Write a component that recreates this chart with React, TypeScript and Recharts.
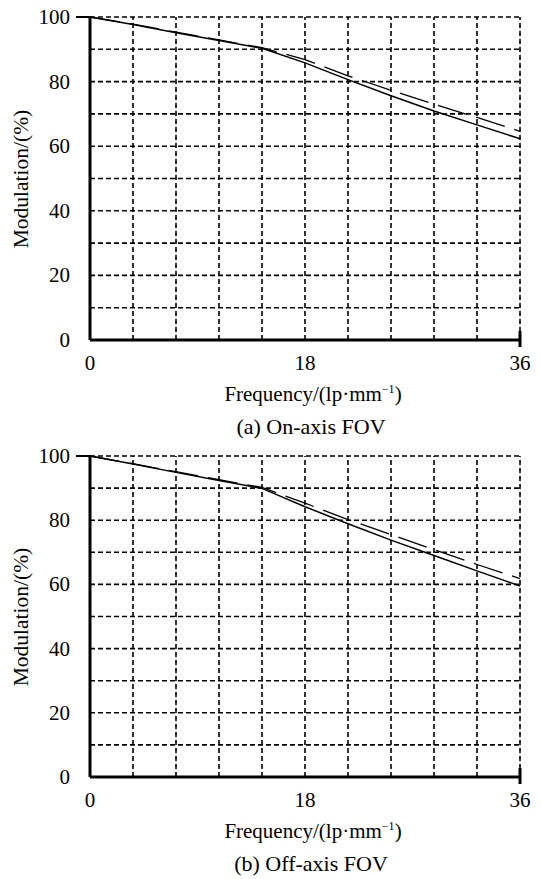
import React from 'react'
import { LineChart, Line, XAxis, YAxis, ReferenceLine } from 'recharts'

// MTF curves, frequency in lp/mm, modulation in %
const FREQ = [0, 3.6, 7.2, 10.8, 14.4, 18, 21.6, 25.2, 28.8, 32.4, 36]
const ON_AXIS_SOLID = [100, 97.7, 95.1, 92.7, 90.3, 85.8, 80.6, 75.6, 70.9, 66.6, 62.3]
const ON_AXIS_DASHED = [100, 97.8, 95.3, 92.9, 90.5, 86.8, 81.8, 77.3, 73.0, 68.9, 64.6]
const OFF_AXIS_SOLID = [100, 97.5, 94.9, 92.4, 89.9, 84.2, 78.9, 73.8, 69.0, 64.2, 59.5]
const OFF_AXIS_DASHED = [100, 97.6, 95.1, 92.6, 90.2, 85.3, 80.2, 75.5, 70.8, 66.2, 61.8]

const X_TICKS = [0, 18, 36]
const Y_TICKS = [0, 20, 40, 60, 80, 100]
const GRID_X = [3.6, 7.2, 10.8, 14.4, 18, 21.6, 25.2, 28.8, 32.4, 36]
const GRID_Y = [10, 20, 30, 40, 50, 60, 70, 80, 90, 100]

const FONT = '"Liberation Serif", "Times New Roman", serif'
const INK = '#000'

const buildRows = (solid: number[], dashed: number[]) =>
  FREQ.map((f, i) => ({ f, solid: solid[i], dashed: dashed[i] }))

const YTick = (props: any) => {
  const { x, y, payload } = props
  return (
    <g>
      <text x={x} y={y} textAnchor="end" dominantBaseline="central" fontFamily={FONT} fontSize={21} fill={INK}>
        {payload.value}
      </text>
      {payload.value === 100 && <line x1={x + 6} x2={x + 20} y1={y} y2={y} stroke={INK} strokeWidth={2} />}
    </g>
  )
}

const XTick = (props: any) => {
  const { x, y, payload } = props
  const axisY = y - 12
  return (
    <g>
      <text x={x} y={y + 11} textAnchor="middle" dominantBaseline="central" fontFamily={FONT} fontSize={21} fill={INK}>
        {payload.value}
      </text>
      {payload.value === 36 && <line x1={x} x2={x} y1={axisY - 9} y2={axisY + 7} stroke={INK} strokeWidth={3} />}
    </g>
  )
}

type PanelProps = {
  top: number
  height: number
  plotTop: number
  plotBottom: number
  solid: number[]
  dashed: number[]
  caption: string
}

const AXIS_BAND = 30

function Panel({ top, height, plotTop, plotBottom, solid, dashed, caption }: PanelProps) {
  const rows = buildRows(solid, dashed)
  const midY = (plotTop + plotBottom) / 2
  return (
    <div style={{ position: 'absolute', left: 0, top, width: 541, height }}>
      <LineChart
        width={541}
        height={height}
        data={rows}
        margin={{ top: plotTop, right: 21, bottom: height - plotBottom - AXIS_BAND, left: 90 - AXIS_BAND }}
      >
        {GRID_Y.map((v) => (
          <ReferenceLine key={'gy' + v} y={v} stroke={INK} strokeWidth={1.6} strokeDasharray="5 3" />
        ))}
        {GRID_X.map((v) => (
          <ReferenceLine key={'gx' + v} x={v} stroke={INK} strokeWidth={1.6} strokeDasharray="5 3" />
        ))}
        <XAxis
          dataKey="f"
          type="number"
          domain={[0, 36]}
          ticks={X_TICKS}
          height={AXIS_BAND}
          tickSize={0}
          tickMargin={12}
          tickLine={false}
          axisLine={{ stroke: INK, strokeWidth: 3 }}
          tick={<XTick />}
          interval={0}
        />
        <YAxis
          type="number"
          domain={[0, 100]}
          ticks={Y_TICKS}
          width={AXIS_BAND}
          tickSize={0}
          tickMargin={20}
          tickLine={false}
          axisLine={{ stroke: INK, strokeWidth: 3 }}
          tick={<YTick />}
          interval={0}
        />
        <Line type="linear" dataKey="dashed" stroke={INK} strokeWidth={1.3} strokeDasharray="30 10" dot={false} isAnimationActive={false} />
        <Line type="linear" dataKey="solid" stroke={INK} strokeWidth={1.5} dot={false} isAnimationActive={false} />
      </LineChart>
      <div
        style={{
          position: 'absolute', left: 21, top: midY, transform: 'translate(-50%, -50%) rotate(-90deg)',
          fontFamily: FONT, fontSize: 21.5, whiteSpace: 'nowrap', color: INK,
        }}
      >
        Modulation/(%)
      </div>
      <div
        style={{
          position: 'absolute', left: 313, top: plotBottom + 54, transform: 'translate(-50%, -50%)',
          fontFamily: FONT, fontSize: 21, whiteSpace: 'nowrap', color: INK,
        }}
      >
        Frequency/(lp·mm<sup style={{ fontSize: 12 }}>−1</sup>)
      </div>
      <div
        style={{
          position: 'absolute', left: 311, top: plotBottom + 87, transform: 'translate(-50%, -50%)',
          fontFamily: FONT, fontSize: 22, whiteSpace: 'nowrap', color: INK,
        }}
      >
        {caption}
      </div>
    </div>
  )
}

export default function App() {
  return (
    <div style={{ position: 'absolute', left: 0, top: 0, width: 541, height: 879, background: '#fff' }}>
      <Panel top={0} height={440} plotTop={17} plotBottom={340} solid={ON_AXIS_SOLID} dashed={ON_AXIS_DASHED} caption="(a) On-axis FOV" />
      <Panel top={440} height={439} plotTop={16} plotBottom={337} solid={OFF_AXIS_SOLID} dashed={OFF_AXIS_DASHED} caption="(b) Off-axis FOV" />
    </div>
  )
}
